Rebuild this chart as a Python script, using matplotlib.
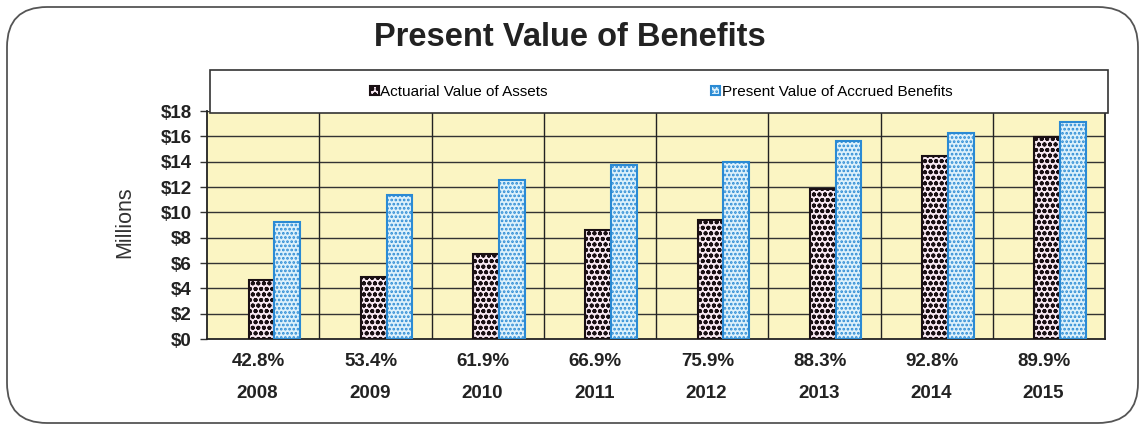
import matplotlib.pyplot as plt
from matplotlib.patches import FancyBboxPatch, Rectangle
import numpy as np

plt.rcParams['font.family'] = ['Liberation Sans', 'DejaVu Sans']
plt.rcParams['hatch.linewidth'] = 1.3

years = ["2008", "2009", "2010", "2011", "2012", "2013", "2014", "2015"]
funded_pct = ["42.8%", "53.4%", "61.9%", "66.9%", "75.9%", "88.3%", "92.8%", "89.9%"]
assets = [4.65, 4.9, 6.75, 8.58, 9.37, 11.87, 14.43, 15.93]
accrued = [9.24, 11.34, 12.52, 13.75, 13.96, 15.67, 16.3, 17.17]
y_ticks = [0, 2, 4, 6, 8, 10, 12, 14, 16, 18]

W, H = 1145, 429
fig = plt.figure(figsize=(W / 100, H / 100), dpi=100)
fig.patch.set_facecolor("white")

# rounded outer frame
fig.patches.append(FancyBboxPatch((7 / W, 6 / H), 1131 / W, 416 / H,
                                  boxstyle="round,pad=0,rounding_size=0.035",
                                  transform=fig.transFigure, fill=False,
                                  edgecolor="#555555", linewidth=1.3,
                                  mutation_aspect=W / H))

ax = fig.add_axes([207 / W, 1 - 339 / H, (1105 - 207) / W, (339 - 111) / H])
ax.set_facecolor("#FBF5C3")

x = np.arange(len(years))
bw = 0.23
off = 0.1
b1 = ax.bar(x + off - bw / 2, assets, bw, facecolor="#F8E8F2",
            edgecolor="#1A1014", hatch="ooo", linewidth=1.5,
            label="Actuarial Value of Assets", zorder=3)
b2 = ax.bar(x + off + bw / 2, accrued, bw, facecolor="#DDF1FB",
            edgecolor="#2A8AD4", hatch="....", linewidth=1.5,
            label="Present Value of Accrued Benefits", zorder=3)

ax.set_xlim(-0.5, len(years) - 0.5)
ax.set_ylim(0, 18)
ax.set_yticks(y_ticks)
ax.set_yticklabels(["$%d" % v for v in y_ticks], fontsize=13.5, fontweight="bold",
                   color="#222222")
ax.tick_params(axis="y", length=5, width=1, color="#333333", pad=6)
ax.set_xticks([])
for v in y_ticks[1:]:
    ax.axhline(v, color="#333333", linewidth=1.0, zorder=1)
for xv in x[:-1] + 0.5:
    ax.axvline(xv, color="#222222", linewidth=1.0, zorder=1)
for side in ["left", "right", "bottom"]:
    ax.spines[side].set_color("#222222")
    ax.spines[side].set_linewidth(1.3)
ax.spines["top"].set_visible(False)

for i in range(len(years)):
    ax.text(i - 0.04, -0.1, funded_pct[i], transform=ax.get_xaxis_transform(),
            ha="center", va="center", fontsize=13.5, fontweight="bold", color="#222222")
    ax.text(i - 0.05, -0.24, years[i], transform=ax.get_xaxis_transform(),
            ha="center", va="center", fontsize=13.5, fontweight="bold", color="#222222")

fig.text(125 / W, 1 - 222 / H, "Millions", rotation=90, ha="center", va="center",
         fontsize=15.5, color="#333333")
fig.text(570 / W, 1 - 37 / H, "Present Value of Benefits", ha="center", va="center",
         fontsize=23.5, fontweight="bold", color="#222222")

# legend box above the plot
fig.patches.append(Rectangle((210 / W, 1 - 113 / H), 898 / W, 43 / H,
                             transform=fig.transFigure, facecolor="white",
                             edgecolor="#333333", linewidth=1.2, zorder=5))
leg = fig.legend(handles=[b1, b2], loc="center", bbox_to_anchor=(661 / W, 1 - 92 / H),
                 ncol=2, frameon=False, fontsize=11, handlelength=0.6,
                 handleheight=0.6, handletextpad=0.1, columnspacing=10.7)
leg.set_zorder(6)

fig.savefig("out.png", dpi=100)
